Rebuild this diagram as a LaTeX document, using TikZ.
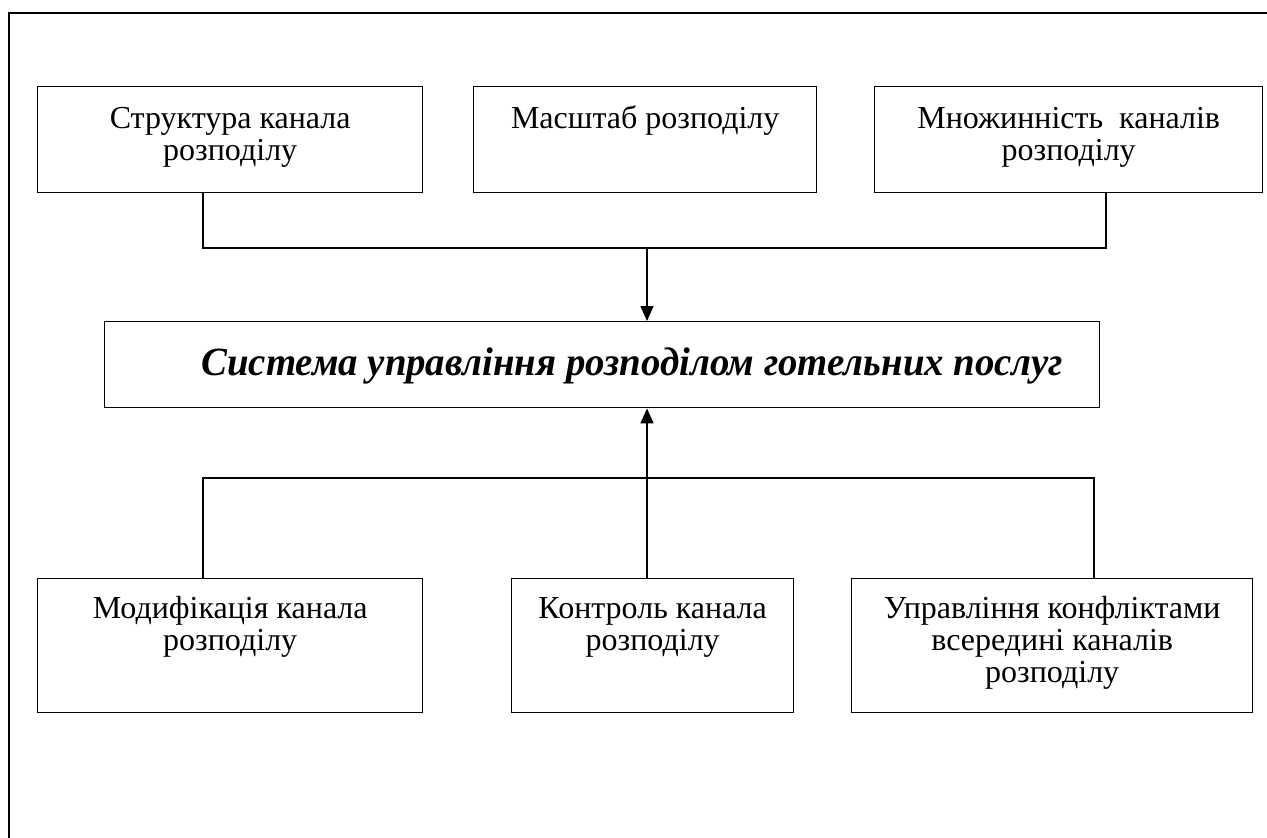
\documentclass[tikz,border=0pt]{standalone}
\usepackage{fontspec}
\setmainfont{Liberation Serif}
\usetikzlibrary{arrows.meta}
\newcommand{\boxtext}[4]{\parbox[c][#2][t]{#1}{\centering\rule{0pt}{#3}#4}}
\begin{document}
\begin{tikzpicture}[x=1pt,y=-1pt,
  box/.style={draw, line width=1.4pt, inner sep=0pt, anchor=north west, font=\fontsize{32}{32}\selectfont},
  conn/.style={line width=1.4pt},
  arr/.style={conn, -{Triangle[width=13pt,length=15pt]}}]
\useasboundingbox (0,0) rectangle (1267,838);
\fill[white] (0,0) rectangle (1267,838);
\draw[line width=1.6pt] (9,838) -- (9,13) -- (1267,13);

\node[box] (A) at (37,86)  {\boxtext{385pt}{106pt}{42pt}{Структура канала\\розподілу}};
\node[box] (B) at (473,86) {\boxtext{343pt}{106pt}{42pt}{Масштаб розподілу}};
\node[box] (C) at (874,86) {\boxtext{388pt}{106pt}{42pt}{Множинність\ \ каналів\\розподілу}};

\node[box, font=\fontsize{40}{42}\bfseries\itshape] (M) at (104,321) {\boxtext{995pt}{86pt}{54pt}{\hspace*{60pt}\scalebox{0.97}[1]{Система управління розподілом готельних послуг}}};

\node[box] (D) at (37,578)  {\boxtext{385pt}{134pt}{40pt}{Модифікація канала\\розподілу}};
\node[box] (E) at (511,578) {\boxtext{282pt}{134pt}{40pt}{Контроль канала\\розподілу}};
\node[box] (F) at (851,578) {\boxtext{401pt}{134pt}{40pt}{Управління конфліктами\\всередині каналів\\розподілу}};

\coordinate (tj) at (647,248);
\coordinate (bj) at (647,478);
\draw[conn] ([xshift=166pt]A.south west) |- (tj) -| ([xshift=232pt]C.south west);
\draw[arr] (tj) -- (tj |- M.north);
\draw[arr] (bj) -- (bj |- M.south);
\draw[conn] ([xshift=166pt]D.north west) |- (bj) -| ([xshift=243pt]F.north west);
\draw[conn] (bj) -- (bj |- E.north);
\end{tikzpicture}
\end{document}
